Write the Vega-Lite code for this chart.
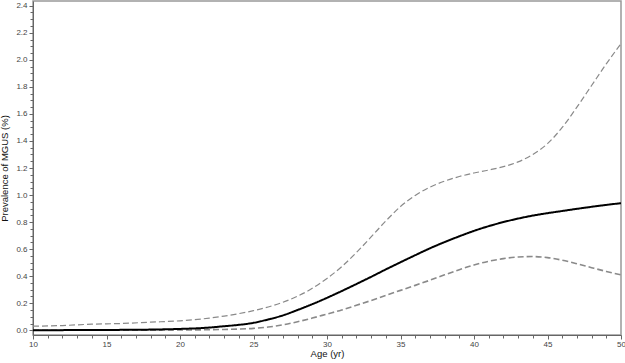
{
  "$schema": "https://vega.github.io/schema/vega-lite/v6.json",
  "width": 588,
  "height": 334,
  "autosize": {"type": "none"},
  "padding": {"left": 33, "top": 1, "right": 4, "bottom": 28},
  "background": "white",
  "config": {
    "view": {"stroke": "#999", "strokeWidth": 1.5},
    "font": "Liberation Sans",
    "axis": {
      "domainColor": "#666",
      "tickColor": "#666",
      "labelColor": "#444",
      "labelFontSize": 8,
      "titleFontSize": 9.5,
      "titleFontWeight": "normal",
      "titleColor": "#111",
      "grid": false
    }
  },
  "data": {
    "values": [
      {"age": 10, "est": 0.0, "lower": 0.0, "upper": 0.03},
      {"age": 12, "est": 0.001, "lower": 0.0, "upper": 0.035},
      {"age": 14, "est": 0.002, "lower": 0.0, "upper": 0.045},
      {"age": 16, "est": 0.003, "lower": 0.0, "upper": 0.05},
      {"age": 18, "est": 0.005, "lower": 0.001, "upper": 0.06},
      {"age": 20, "est": 0.01, "lower": 0.002, "upper": 0.07},
      {"age": 22, "est": 0.02, "lower": 0.004, "upper": 0.09},
      {"age": 23, "est": 0.03, "lower": 0.006, "upper": 0.105},
      {"age": 24, "est": 0.04, "lower": 0.009, "upper": 0.123},
      {"age": 25, "est": 0.055, "lower": 0.014, "upper": 0.145},
      {"age": 26, "est": 0.08, "lower": 0.024, "upper": 0.172},
      {"age": 27, "est": 0.11, "lower": 0.04, "upper": 0.207},
      {"age": 28, "est": 0.15, "lower": 0.063, "upper": 0.252},
      {"age": 29, "est": 0.193, "lower": 0.09, "upper": 0.31},
      {"age": 30, "est": 0.24, "lower": 0.12, "upper": 0.383},
      {"age": 31, "est": 0.29, "lower": 0.15, "upper": 0.47},
      {"age": 32, "est": 0.342, "lower": 0.185, "upper": 0.575},
      {"age": 33, "est": 0.395, "lower": 0.22, "upper": 0.69},
      {"age": 34, "est": 0.45, "lower": 0.258, "upper": 0.808},
      {"age": 35, "est": 0.503, "lower": 0.295, "upper": 0.915},
      {"age": 36, "est": 0.555, "lower": 0.332, "upper": 0.997},
      {"age": 37, "est": 0.606, "lower": 0.37, "upper": 1.058},
      {"age": 38, "est": 0.652, "lower": 0.41, "upper": 1.103},
      {"age": 39, "est": 0.695, "lower": 0.448, "upper": 1.137},
      {"age": 40, "est": 0.735, "lower": 0.483, "upper": 1.163},
      {"age": 41, "est": 0.77, "lower": 0.51, "upper": 1.185},
      {"age": 42, "est": 0.8, "lower": 0.53, "upper": 1.21},
      {"age": 43, "est": 0.826, "lower": 0.542, "upper": 1.245},
      {"age": 44, "est": 0.848, "lower": 0.545, "upper": 1.3},
      {"age": 45, "est": 0.866, "lower": 0.537, "upper": 1.38},
      {"age": 46, "est": 0.882, "lower": 0.518, "upper": 1.5},
      {"age": 47, "est": 0.898, "lower": 0.492, "upper": 1.65},
      {"age": 48, "est": 0.913, "lower": 0.463, "upper": 1.81},
      {"age": 49, "est": 0.927, "lower": 0.435, "upper": 1.97},
      {"age": 50, "est": 0.94, "lower": 0.41, "upper": 2.12}
    ]
  },
  "transform": [
    {"fold": ["upper", "lower", "est"], "as": ["series", "value"]}
  ],
  "mark": {"type": "line", "interpolate": "monotone"},
  "encoding": {
    "x": {
      "field": "age",
      "type": "quantitative",
      "scale": {"domain": [10, 50], "nice": false, "zero": false},
      "axis": {
        "title": "Age (yr)",
        "values": [10,11,12,13,14,15,16,17,18,19,20,21,22,23,24,25,26,27,28,29,30,31,32,33,34,35,36,37,38,39,40,41,42,43,44,45,46,47,48,49,50],
        "labelExpr": "datum.value % 5 === 0 ? datum.label : ''",
        "tickSize": {"condition": {"test": "datum.value % 5 === 0", "value": 4}, "value": 3},
        "labelPadding": 1,
        "titlePadding": 0,
        "labelFlush": false
      }
    },
    "y": {
      "field": "value",
      "type": "quantitative",
      "scale": {"domain": [-0.035, 2.435], "nice": false, "zero": false},
      "axis": {
        "title": "Prevalence of MGUS (%)",
        "values": [0,0.05,0.1,0.15,0.2,0.25,0.3,0.35,0.4,0.45,0.5,0.55,0.6,0.65,0.7,0.75,0.8,0.85,0.9,0.95,1.0,1.05,1.1,1.15,1.2,1.25,1.3,1.35,1.4,1.45,1.5,1.55,1.6,1.65,1.7,1.75,1.8,1.85,1.9,1.95,2.0,2.05,2.1,2.15,2.2,2.25,2.3,2.35,2.4],
        "format": ".1f",
        "labelExpr": "round(datum.value*100) % 20 === 0 ? datum.label : ''",
        "tickSize": {"condition": {"test": "round(datum.value*100) % 20 === 0", "value": 4}, "value": 3},
        "labelPadding": 2,
        "titlePadding": 6,
        "labelFlush": false
      }
    },
    "detail": {"field": "series"},
    "color": {
      "field": "series",
      "type": "nominal",
      "scale": {"domain": ["est", "lower", "upper"], "range": ["#000000", "#8a8a8a", "#8a8a8a"]},
      "legend": null
    },
    "strokeDash": {
      "field": "series",
      "type": "nominal",
      "scale": {"domain": ["est", "lower", "upper"], "range": [[1, 0], [6, 3], [6, 3]]},
      "legend": null
    },
    "strokeWidth": {
      "field": "series",
      "type": "nominal",
      "scale": {"domain": ["est", "lower", "upper"], "range": [2, 1.2, 1.2]},
      "legend": null
    }
  }
}
